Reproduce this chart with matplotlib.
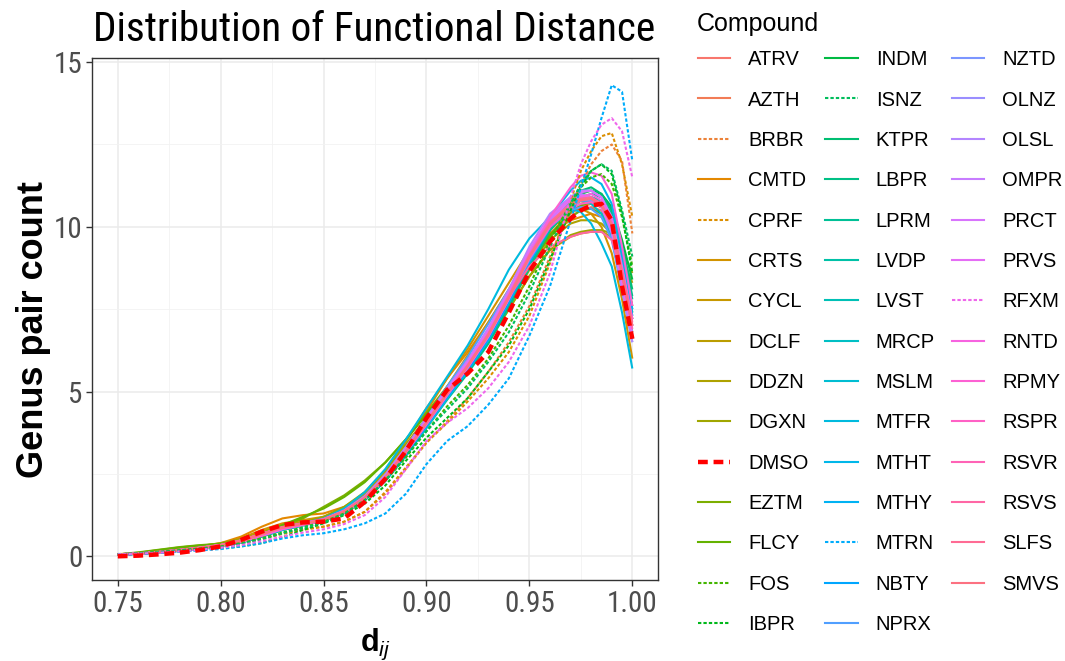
import os
import numpy as np
import matplotlib
matplotlib.use("Agg")
import matplotlib.pyplot as plt
from matplotlib.lines import Line2D
from matplotlib import font_manager as fm

plt.rcParams["font.family"] = ["Liberation Sans", "DejaVu Sans"]
plt.rcParams["mathtext.fontset"] = "custom"
plt.rcParams["mathtext.bf"] = "Liberation Sans:bold"
plt.rcParams["mathtext.it"] = "Liberation Sans:italic"
plt.rcParams["mathtext.rm"] = "Liberation Sans"

# grid of d_ij values the curves were read at
d_ij = [0.75, 0.76, 0.77, 0.78, 0.79, 0.80, 0.81, 0.82, 0.83, 0.84, 0.85, 0.86, 0.87, 0.88, 0.89,
        0.90, 0.91, 0.92, 0.93, 0.94, 0.95, 0.96, 0.97, 0.975, 0.98, 0.985, 0.99, 0.995, 1.0]

ATRV = [0.05, 0.08, 0.13, 0.19, 0.26, 0.34, 0.48, 0.68, 0.86, 0.97, 1.08, 1.30, 1.70, 2.30, 3.10, 4.00, 4.90, 5.70, 6.60, 7.70, 8.80, 9.70, 10.30, 10.50, 10.60, 10.50, 10.00, 8.60, 7.00]
AZTH = [0.06, 0.09, 0.14, 0.20, 0.27, 0.35, 0.50, 0.70, 0.90, 1.00, 1.12, 1.35, 1.75, 2.40, 3.20, 4.10, 5.00, 5.80, 6.70, 7.80, 8.90, 9.80, 10.40, 10.60, 10.70, 10.60, 10.10, 8.70, 7.20]
BRBR = [0.07, 0.09, 0.12, 0.17, 0.23, 0.30, 0.40, 0.55, 0.70, 0.82, 0.90, 1.05, 1.35, 1.90, 2.65, 3.45, 4.10, 4.80, 5.60, 6.50, 7.60, 9.10, 10.60, 11.30, 11.90, 12.30, 12.50, 12.00, 9.80]
CMTD = [0.05, 0.09, 0.15, 0.22, 0.30, 0.40, 0.60, 0.90, 1.15, 1.25, 1.30, 1.50, 1.90, 2.60, 3.50, 4.50, 5.40, 6.20, 7.10, 8.10, 9.10, 9.80, 10.20, 10.30, 10.40, 10.30, 9.90, 8.60, 7.20]
CPRF = [0.06, 0.08, 0.11, 0.16, 0.22, 0.29, 0.38, 0.52, 0.68, 0.80, 0.90, 1.05, 1.35, 1.95, 2.70, 3.45, 4.05, 4.70, 5.40, 6.20, 7.30, 8.90, 10.80, 11.70, 12.30, 12.75, 12.85, 11.90, 10.30]
CRTS = [0.05, 0.08, 0.13, 0.20, 0.28, 0.38, 0.55, 0.80, 1.00, 1.10, 1.20, 1.45, 1.90, 2.60, 3.50, 4.40, 5.40, 6.30, 7.30, 8.30, 9.30, 10.10, 10.50, 10.55, 10.40, 10.00, 9.20, 7.80, 6.00]
CYCL = [0.05, 0.08, 0.13, 0.19, 0.27, 0.36, 0.52, 0.75, 0.95, 1.05, 1.15, 1.40, 1.80, 2.45, 3.30, 4.20, 5.15, 6.10, 7.10, 8.05, 9.00, 9.90, 10.50, 10.70, 10.80, 10.60, 10.00, 8.40, 6.80]
DCLF = [0.05, 0.09, 0.14, 0.21, 0.28, 0.37, 0.52, 0.72, 0.92, 1.02, 1.15, 1.42, 1.85, 2.50, 3.30, 4.10, 4.90, 5.70, 6.50, 7.50, 8.50, 9.30, 9.70, 9.80, 9.85, 9.85, 9.70, 9.10, 8.30]
DDZN = [0.05, 0.08, 0.13, 0.19, 0.26, 0.34, 0.48, 0.68, 0.88, 0.98, 1.10, 1.35, 1.75, 2.35, 3.15, 4.00, 4.90, 5.70, 6.60, 7.60, 8.70, 9.60, 10.10, 10.20, 10.20, 10.10, 9.80, 8.90, 7.60]
DGXN = [0.04, 0.08, 0.14, 0.22, 0.31, 0.40, 0.52, 0.68, 0.88, 1.02, 1.20, 1.50, 1.95, 2.60, 3.40, 4.20, 5.00, 5.70, 6.50, 7.50, 8.50, 9.30, 9.75, 9.85, 9.90, 9.90, 9.80, 9.30, 8.60]
DMSO = [0.00, 0.02, 0.06, 0.11, 0.19, 0.30, 0.50, 0.75, 0.95, 1.03, 1.05, 1.15, 1.65, 2.35, 3.20, 4.20, 5.05, 5.55, 6.20, 7.40, 8.65, 9.55, 10.25, 10.50, 10.65, 10.70, 10.20, 8.20, 6.60]
EZTM = [0.06, 0.12, 0.20, 0.28, 0.34, 0.38, 0.48, 0.68, 0.92, 1.15, 1.50, 1.85, 2.30, 2.85, 3.55, 4.35, 5.15, 5.95, 6.85, 7.85, 8.85, 9.70, 10.30, 10.50, 10.55, 10.40, 9.90, 8.60, 7.40]
FLCY = [0.05, 0.11, 0.19, 0.27, 0.33, 0.37, 0.46, 0.68, 0.95, 1.20, 1.45, 1.80, 2.25, 2.85, 3.55, 4.30, 5.05, 5.85, 6.75, 7.75, 8.85, 9.75, 10.45, 10.65, 10.75, 10.60, 10.10, 8.80, 7.60]
FOS = [0.06, 0.09, 0.13, 0.18, 0.24, 0.30, 0.40, 0.55, 0.72, 0.88, 1.05, 1.30, 1.70, 2.30, 3.00, 3.80, 4.55, 5.20, 6.00, 7.00, 8.20, 9.60, 10.70, 11.20, 11.50, 11.60, 11.30, 10.30, 8.80]
IBPR = [0.05, 0.08, 0.12, 0.16, 0.20, 0.24, 0.30, 0.40, 0.58, 0.80, 1.00, 1.25, 1.60, 2.15, 2.90, 3.60, 4.20, 4.80, 5.60, 6.40, 7.50, 9.00, 10.50, 11.20, 11.70, 11.90, 11.60, 10.40, 8.60]
INDM = [0.05, 0.08, 0.12, 0.17, 0.23, 0.30, 0.42, 0.60, 0.80, 0.95, 1.10, 1.35, 1.75, 2.35, 3.10, 3.95, 4.80, 5.60, 6.50, 7.60, 8.80, 9.90, 10.70, 11.00, 11.10, 11.00, 10.60, 9.60, 8.40]
ISNZ = [0.06, 0.09, 0.13, 0.18, 0.23, 0.29, 0.38, 0.52, 0.70, 0.86, 1.02, 1.28, 1.70, 2.30, 3.05, 3.80, 4.45, 5.10, 5.90, 6.80, 8.00, 9.40, 10.70, 11.30, 11.70, 11.90, 11.70, 10.50, 9.10]
KTPR = [0.05, 0.08, 0.12, 0.17, 0.23, 0.30, 0.43, 0.62, 0.82, 0.96, 1.10, 1.38, 1.80, 2.40, 3.20, 4.05, 4.90, 5.70, 6.60, 7.70, 8.90, 10.00, 10.80, 11.10, 11.20, 11.00, 10.50, 9.40, 8.10]
LBPR = [0.05, 0.07, 0.11, 0.16, 0.22, 0.29, 0.41, 0.60, 0.80, 0.94, 1.08, 1.33, 1.72, 2.30, 3.05, 3.90, 4.75, 5.55, 6.45, 7.55, 8.75, 9.90, 10.70, 10.90, 11.00, 10.90, 10.40, 9.30, 7.90]
LPRM = [0.05, 0.08, 0.12, 0.18, 0.24, 0.31, 0.44, 0.63, 0.83, 0.97, 1.10, 1.35, 1.75, 2.35, 3.15, 4.00, 4.85, 5.65, 6.55, 7.65, 8.85, 9.90, 10.60, 10.80, 10.90, 10.80, 10.30, 9.20, 7.80]
LVDP = [0.06, 0.09, 0.13, 0.18, 0.24, 0.32, 0.45, 0.65, 0.85, 0.98, 1.12, 1.38, 1.80, 2.42, 3.22, 4.08, 4.95, 5.75, 6.65, 7.75, 8.95, 9.95, 10.60, 10.80, 10.80, 10.60, 10.10, 8.80, 7.50]
LVST = [0.05, 0.08, 0.12, 0.17, 0.23, 0.30, 0.43, 0.62, 0.82, 0.95, 1.08, 1.32, 1.72, 2.32, 3.12, 3.98, 4.85, 5.68, 6.60, 7.72, 8.95, 10.00, 10.70, 10.90, 10.90, 10.70, 10.10, 8.70, 7.30]
MRCP = [0.06, 0.09, 0.13, 0.19, 0.25, 0.33, 0.46, 0.66, 0.86, 0.99, 1.12, 1.38, 1.80, 2.45, 3.28, 4.15, 5.02, 5.85, 6.78, 7.90, 9.10, 10.10, 10.70, 10.80, 10.70, 10.40, 9.70, 8.10, 6.60]
MSLM = [0.05, 0.08, 0.12, 0.18, 0.24, 0.32, 0.45, 0.64, 0.84, 0.97, 1.10, 1.36, 1.78, 2.40, 3.20, 4.08, 4.95, 5.80, 6.75, 7.90, 9.15, 10.20, 10.90, 11.10, 11.10, 10.90, 10.30, 8.80, 7.40]
MTFR = [0.05, 0.08, 0.12, 0.17, 0.24, 0.32, 0.46, 0.66, 0.86, 1.00, 1.15, 1.45, 1.95, 2.65, 3.55, 4.50, 5.45, 6.40, 7.50, 8.70, 9.65, 10.30, 10.55, 10.45, 10.10, 9.50, 8.80, 7.40, 5.70]
MTHT = [0.05, 0.08, 0.12, 0.17, 0.23, 0.30, 0.42, 0.60, 0.80, 0.94, 1.08, 1.32, 1.70, 2.28, 3.05, 3.90, 4.78, 5.62, 6.55, 7.75, 9.05, 10.30, 11.10, 11.40, 11.50, 11.30, 10.70, 9.10, 7.50]
MTHY = [0.05, 0.08, 0.12, 0.17, 0.23, 0.31, 0.44, 0.63, 0.83, 0.96, 1.09, 1.34, 1.74, 2.34, 3.14, 4.00, 4.86, 5.68, 6.60, 7.72, 8.94, 10.00, 10.60, 10.80, 10.80, 10.60, 10.00, 8.60, 7.20]
MTRN = [0.05, 0.07, 0.10, 0.14, 0.18, 0.22, 0.30, 0.40, 0.54, 0.64, 0.70, 0.82, 1.00, 1.30, 1.90, 2.80, 3.50, 3.95, 4.60, 5.40, 6.70, 8.20, 10.20, 11.20, 12.20, 13.30, 14.30, 14.10, 12.00]
NBTY = [0.05, 0.08, 0.12, 0.17, 0.23, 0.30, 0.43, 0.62, 0.82, 0.95, 1.08, 1.33, 1.73, 2.33, 3.12, 3.98, 4.84, 5.66, 6.58, 7.70, 8.92, 10.00, 10.70, 10.90, 10.90, 10.70, 10.10, 8.70, 7.30]
NPRX = [0.05, 0.08, 0.13, 0.19, 0.26, 0.34, 0.48, 0.68, 0.88, 1.00, 1.13, 1.40, 1.83, 2.46, 3.28, 4.20, 5.15, 6.05, 7.05, 8.10, 9.15, 10.00, 10.50, 10.60, 10.55, 10.30, 9.60, 8.10, 6.50]
NZTD = [0.05, 0.08, 0.12, 0.18, 0.25, 0.33, 0.46, 0.66, 0.86, 0.98, 1.10, 1.36, 1.77, 2.38, 3.18, 4.05, 4.92, 5.75, 6.68, 7.80, 9.00, 10.00, 10.60, 10.80, 10.80, 10.60, 10.00, 8.50, 7.00]
OLNZ = [0.05, 0.08, 0.12, 0.18, 0.24, 0.32, 0.45, 0.64, 0.84, 0.97, 1.10, 1.36, 1.78, 2.42, 3.25, 4.12, 5.00, 5.85, 6.80, 7.95, 9.20, 10.20, 10.80, 10.90, 10.90, 10.60, 9.90, 8.30, 6.80]
OLSL = [0.05, 0.08, 0.13, 0.19, 0.26, 0.34, 0.48, 0.68, 0.88, 1.00, 1.12, 1.38, 1.82, 2.48, 3.32, 4.20, 5.10, 5.95, 6.92, 8.10, 9.40, 10.40, 10.90, 11.00, 10.90, 10.60, 9.80, 8.10, 6.50]
OMPR = [0.05, 0.08, 0.12, 0.18, 0.24, 0.32, 0.45, 0.65, 0.85, 0.98, 1.11, 1.37, 1.79, 2.42, 3.24, 4.12, 5.00, 5.84, 6.78, 7.92, 9.18, 10.25, 10.90, 11.10, 11.10, 10.90, 10.20, 8.60, 7.00]
PRCT = [0.05, 0.08, 0.12, 0.17, 0.23, 0.31, 0.44, 0.63, 0.83, 0.96, 1.09, 1.34, 1.75, 2.36, 3.16, 4.03, 4.90, 5.74, 6.68, 7.82, 9.08, 10.15, 10.85, 11.05, 11.10, 10.90, 10.30, 8.80, 7.20]
PRVS = [0.05, 0.08, 0.13, 0.19, 0.26, 0.34, 0.47, 0.67, 0.87, 0.99, 1.12, 1.38, 1.80, 2.43, 3.25, 4.14, 5.04, 5.90, 6.86, 8.02, 9.30, 10.30, 10.85, 10.95, 10.90, 10.60, 9.90, 8.30, 6.70]
RFXM = [0.06, 0.08, 0.11, 0.15, 0.20, 0.26, 0.34, 0.46, 0.60, 0.72, 0.82, 0.98, 1.25, 1.80, 2.65, 3.50, 4.05, 4.50, 5.10, 5.90, 7.00, 8.60, 10.90, 11.90, 12.60, 13.10, 13.30, 12.90, 11.50]
RNTD = [0.05, 0.08, 0.12, 0.18, 0.25, 0.33, 0.47, 0.67, 0.87, 0.99, 1.11, 1.36, 1.77, 2.38, 3.18, 4.05, 4.93, 5.76, 6.70, 7.84, 9.08, 10.10, 10.70, 10.90, 11.00, 10.80, 10.20, 8.70, 7.10]
RPMY = [0.05, 0.08, 0.12, 0.17, 0.23, 0.30, 0.43, 0.62, 0.82, 0.95, 1.08, 1.33, 1.73, 2.34, 3.14, 4.00, 4.88, 5.72, 6.66, 7.82, 9.10, 10.30, 11.20, 11.55, 11.65, 11.55, 11.00, 9.40, 7.60]
RSPR = [0.06, 0.09, 0.13, 0.19, 0.26, 0.34, 0.48, 0.68, 0.88, 1.00, 1.12, 1.37, 1.78, 2.40, 3.20, 4.07, 4.95, 5.78, 6.72, 7.85, 9.05, 10.00, 10.55, 10.70, 10.75, 10.60, 10.10, 8.70, 7.20]
RSVR = [0.05, 0.08, 0.12, 0.18, 0.25, 0.33, 0.47, 0.67, 0.86, 0.98, 1.10, 1.35, 1.76, 2.38, 3.19, 4.06, 4.95, 5.80, 6.76, 7.92, 9.16, 10.15, 10.70, 10.85, 10.85, 10.65, 10.05, 8.50, 6.90]
RSVS = [0.06, 0.09, 0.14, 0.20, 0.27, 0.35, 0.49, 0.69, 0.89, 1.01, 1.13, 1.38, 1.79, 2.41, 3.21, 4.08, 4.96, 5.79, 6.73, 7.87, 8.80, 9.40, 9.70, 9.80, 9.85, 9.85, 9.60, 8.60, 7.00]
SLFS = [0.05, 0.08, 0.13, 0.19, 0.26, 0.34, 0.48, 0.68, 0.87, 0.99, 1.11, 1.36, 1.77, 2.39, 3.19, 4.06, 4.94, 5.78, 6.73, 7.88, 9.12, 10.12, 10.70, 10.85, 10.90, 10.70, 10.10, 8.60, 7.00]
SMVS = [0.05, 0.08, 0.12, 0.18, 0.25, 0.33, 0.47, 0.67, 0.87, 0.99, 1.11, 1.36, 1.77, 2.38, 3.18, 4.05, 4.93, 5.77, 6.71, 7.85, 9.08, 10.08, 10.65, 10.80, 10.85, 10.65, 10.05, 8.60, 7.00]

compounds = ["ATRV", "AZTH", "BRBR", "CMTD", "CPRF", "CRTS", "CYCL", "DCLF", "DDZN", "DGXN",
             "DMSO", "EZTM", "FLCY", "FOS", "IBPR", "INDM", "ISNZ", "KTPR", "LBPR", "LPRM",
             "LVDP", "LVST", "MRCP", "MSLM", "MTFR", "MTHT", "MTHY", "MTRN", "NBTY", "NPRX",
             "NZTD", "OLNZ", "OLSL", "OMPR", "PRCT", "PRVS", "RFXM", "RNTD", "RPMY", "RSPR",
             "RSVR", "RSVS", "SLFS", "SMVS"]
dotted = ["BRBR", "CPRF", "FOS", "IBPR", "ISNZ", "MTRN", "RFXM"]
highlight = "DMSO"

curves = [ATRV, AZTH, BRBR, CMTD, CPRF, CRTS, CYCL, DCLF, DDZN, DGXN,
          DMSO, EZTM, FLCY, FOS, IBPR, INDM, ISNZ, KTPR, LBPR, LPRM,
          LVDP, LVST, MRCP, MSLM, MTFR, MTHT, MTHY, MTRN, NBTY, NPRX,
          NZTD, OLNZ, OLSL, OMPR, PRCT, PRVS, RFXM, RNTD, RPMY, RSPR,
          RSVR, RSVS, SLFS, SMVS]


def hcl_to_rgb(h, c=100, l=65):
    # polar LUV -> sRGB, same as R's hcl()
    xn, yn, zn = 95.047, 100.0, 108.883
    u_ = c * np.cos(np.radians(h))
    v_ = c * np.sin(np.radians(h))
    y = yn * ((l + 16) / 116) ** 3
    un = 4 * xn / (xn + 15 * yn + 3 * zn)
    vn = 9 * yn / (xn + 15 * yn + 3 * zn)
    u = u_ / (13 * l) + un
    v = v_ / (13 * l) + vn
    x = 9.0 * y * u / (4 * v)
    z = -x / 3 - 5 * y + 3 * y / v
    x, y, z = x / 100, y / 100, z / 100
    r = 3.240479 * x - 1.537150 * y - 0.498535 * z
    g = -0.969256 * x + 1.875992 * y + 0.041556 * z
    b = 0.055648 * x - 0.204043 * y + 1.057311 * z

    def gam(t):
        t = min(max(t, 0), 1)
        return 12.92 * t if t <= 0.0031308 else 1.055 * t ** (1 / 2.4) - 0.055

    return (gam(r), gam(g), gam(b))


def narrow_font():
    # a condensed sans if one is installed, else plain Liberation Sans
    wanted = ["LiberationSansNarrow-Regular", "RobotoCondensed-Regular",
              "DejaVuSansCondensed.", "NotoSans-Condensed.", "NotoSans-CondensedRegular",
              "OpenSans_Condensed-Regular", "OpenSansCondensed"]
    files = [f.fname for f in fm.fontManager.ttflist]
    for w in wanted:
        for path in files:
            if w in os.path.basename(path):
                return fm.FontProperties(fname=path)
    return fm.FontProperties(family="Liberation Sans")


n = len(compounds)
hues = np.linspace(15, 375, n + 1)[:n]
colors = [hcl_to_rgb(h) for h in hues]

fig = plt.figure(figsize=(10.65, 6.61), dpi=100)
ax = fig.add_axes([0.0864, 0.1225, 0.5315, 0.7895])
renderer = fig.canvas.get_renderer()


def fit_size(fp, text, width_px, size0=20.0):
    t = fig.text(0, 0, text, fontproperties=fp, fontsize=size0)
    w = t.get_window_extent(renderer).width
    t.remove()
    return size0 * width_px / w


narrow = narrow_font()
title_fp = narrow.copy()
title_fp.set_size(fit_size(narrow, "Distribution of Functional Distance", 562))
tick_fp = narrow.copy()
tick_fp.set_size(fit_size(narrow, "0.75", 51))

handles = []
for i, name in enumerate(compounds):
    if name == highlight:
        kw = dict(color="#FF0000", lw=3.2, ls=(0, (2.2, 1.3)), zorder=10)
    elif name in dotted:
        kw = dict(color=colors[i], lw=1.5, ls=(0, (1.6, 1.0)), zorder=3)
    else:
        kw = dict(color=colors[i], lw=1.5, ls="-", zorder=2)
    ax.plot(d_ij, curves[i], solid_capstyle="butt", solid_joinstyle="round", **kw)
    handles.append(Line2D([], [], **{k: v for k, v in kw.items() if k != "zorder"}))

ax.set_xlim(0.7375, 1.0125)
ax.set_ylim(-0.72, 15.12)
ax.set_xticks([0.75, 0.80, 0.85, 0.90, 0.95, 1.00])
ax.set_xticklabels(["0.75", "0.80", "0.85", "0.90", "0.95", "1.00"])
ax.set_yticks([0, 5, 10, 15])
ax.set_yticklabels(["0", "5", "10", "15"])
ax.set_xticks([0.775, 0.825, 0.875, 0.925, 0.975], minor=True)
ax.set_yticks([2.5, 7.5, 12.5], minor=True)
ax.grid(which="major", color="#EBEBEB", lw=1.1, zorder=0)
ax.grid(which="minor", color="#F2F2F2", lw=0.6, zorder=0)
ax.set_axisbelow(True)
ax.tick_params(which="major", length=4, width=1, color="#333333",
               labelcolor="#4D4D4D", pad=3)
ax.tick_params(which="minor", length=0)
for lab in ax.get_xticklabels() + ax.get_yticklabels():
    lab.set_fontproperties(tick_fp)
for s in ax.spines.values():
    s.set_color("#333333")
    s.set_linewidth(1.0)

fig.text(93 / 1065, 1 - 41 / 661, "Distribution of Functional Distance",
         fontproperties=title_fp, ha="left", va="baseline")
ax.set_ylabel("Genus pair count", fontsize=26, fontweight="bold")
ax.yaxis.set_label_coords(-0.073, 0.48)
ax.set_xlabel(r"$\mathbf{d}_{\mathit{ij}}$", fontsize=22)
ax.xaxis.set_label_coords(0.5, -0.09)

fig.text(697 / 1065, 1 - 31 / 661, "Compound", fontsize=18, ha="left", va="baseline")
leg = fig.legend(handles, compounds, ncol=3, loc="upper left",
                 bbox_to_anchor=(0.638, 0.9515), frameon=False,
                 fontsize=14.5, handlelength=1.6, handletextpad=0.9,
                 columnspacing=0.85, labelspacing=1.06)

fig.savefig("out.png", dpi=100)
